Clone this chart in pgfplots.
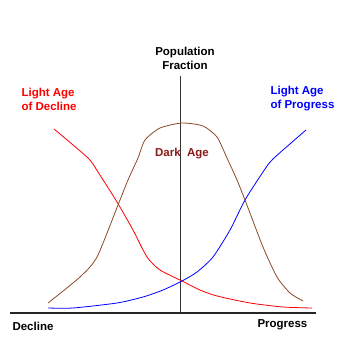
\documentclass[border=0pt]{standalone}
\usepackage{fontspec}
\setmainfont{Liberation Sans}
\usepackage{pgfplots}
\pgfplotsset{compat=1.18}
\definecolor{brownc}{HTML}{8B4A26}
\definecolor{darkage}{HTML}{8B1A1A}
\begin{document}
\begin{tikzpicture}
\begin{axis}[
  width=360pt, height=360pt, scale only axis,
  xmin=0, xmax=360, ymin=0, ymax=360,
  y dir=reverse,
  axis lines=none,
  clip=false,
]
\path (rel axis cs:0,0) rectangle (rel axis cs:1,1);
% axes
\addplot[black!85, line width=1.1pt] coordinates {(10,313) (316,313)};
\addplot[black!80, line width=1.0pt] coordinates {(181,76) (181,313)};
% red: decline
\addplot[red, line width=0.8pt, smooth, tension=0.4] coordinates {
(54,129) (88,158) (98,172) (117,202) (133,230) (147,257) (160,270)
(182,281) (200,290) (217,296) (250,303) (283,307) (312,308)};
% blue: progress
\addplot[blue, line width=0.8pt, smooth, tension=0.4] coordinates {
(48,308) (73,308) (117,303) (143,297) (163,290) (182,281) (197,272)
(213,257) (230,230) (245,200) (263,172) (273,159) (306,130)};
% brown: dark age
\addplot[brownc, line width=0.8pt, smooth, tension=0.4] coordinates {
(48,303) (80,277) (97,257) (118,205) (128,180) (138,158) (145,140)
(160,128) (182,123) (203,126) (217,137) (227,158) (237,180) (245,200)
(263,247) (277,277) (290,293) (303,301)};
% labels
\node[font=\fontsize{11.5}{14}\selectfont\bfseries, align=center] at (axis cs:185,58) {Population\\Fraction};
\node[font=\fontsize{11.5}{14}\selectfont\bfseries, align=left, red, anchor=west] at (axis cs:18,99) {Light Age\\of Decline};
\node[font=\fontsize{11.5}{14}\selectfont\bfseries, align=left, blue, anchor=west] at (axis cs:267,99) {Light Age\\of Progress};
\node[font=\fontsize{11.5}{14}\selectfont\bfseries, darkage] at (axis cs:182,154) {Dark\ \ Age};
\node[font=\fontsize{11.5}{14}\selectfont\bfseries, anchor=west] at (axis cs:9,326) {Decline};
\node[font=\fontsize{11.5}{14}\selectfont\bfseries, anchor=west] at (axis cs:254,325) {Progress};
\end{axis}
\end{tikzpicture}
\end{document}
